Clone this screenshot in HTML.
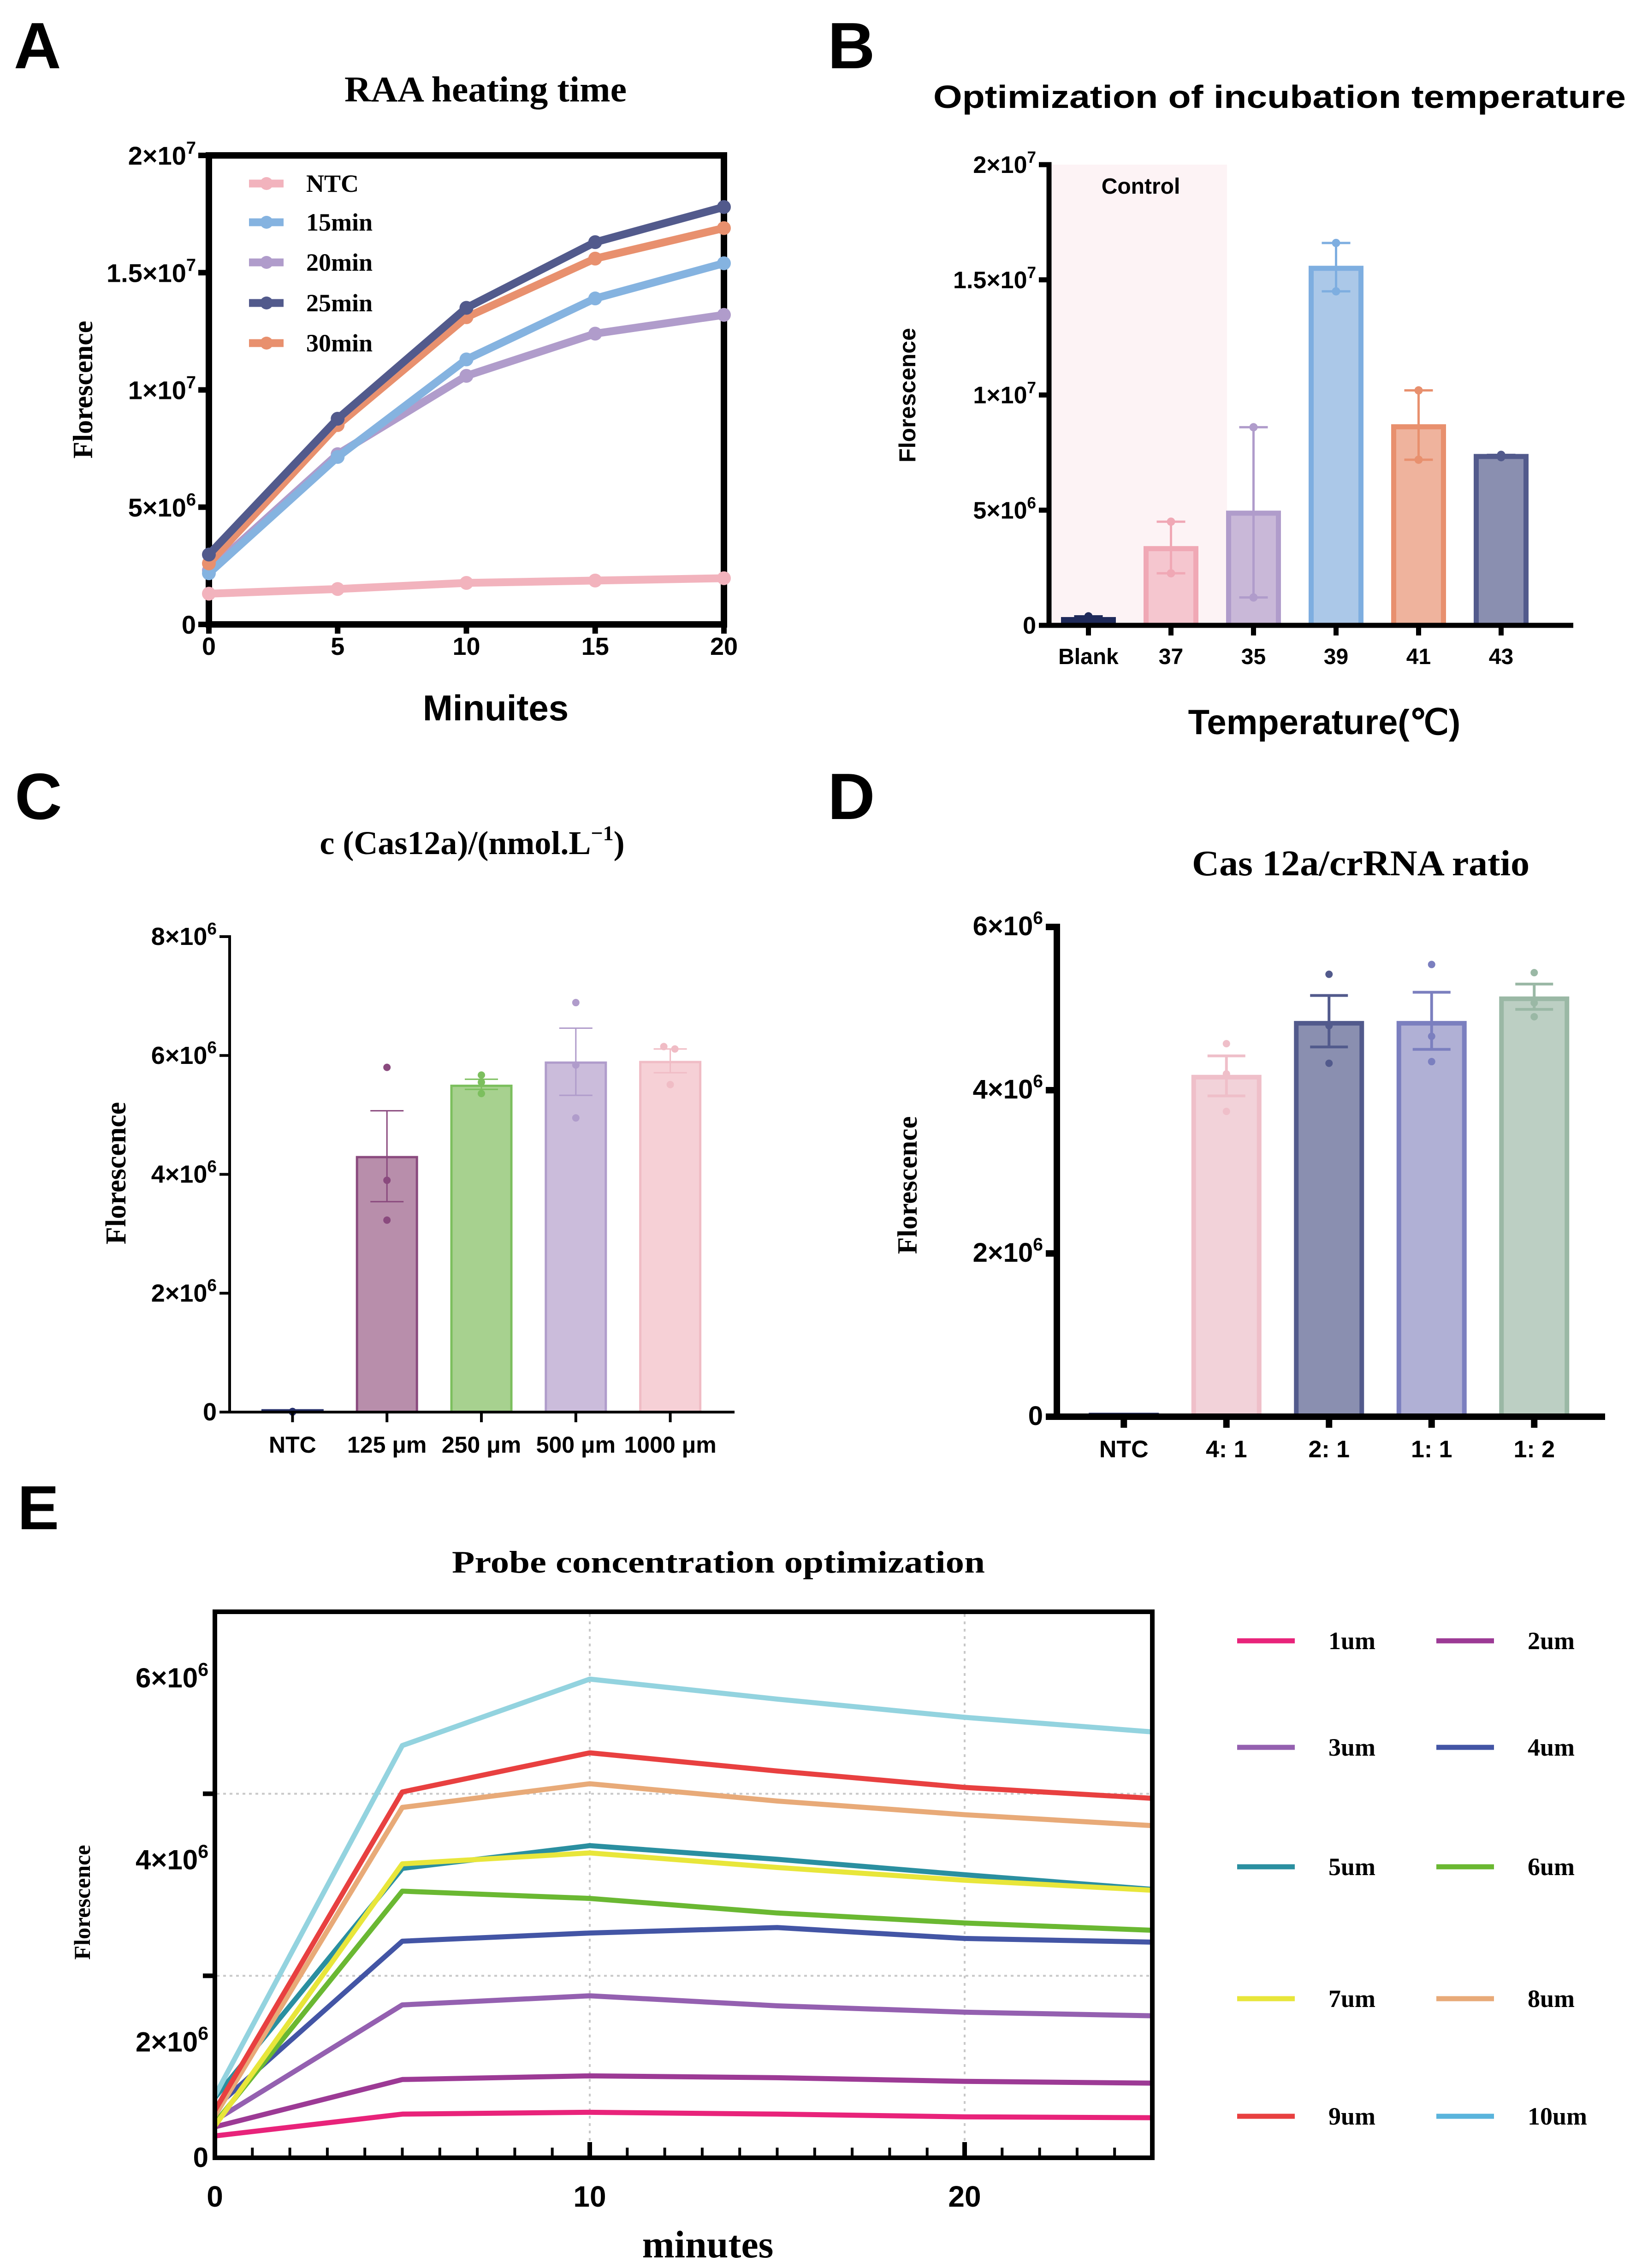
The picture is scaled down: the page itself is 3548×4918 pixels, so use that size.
<!DOCTYPE html>
<html><head><meta charset="utf-8"><style>
html,body{margin:0;padding:0;background:#fff}
svg{display:block}
.sb{font-family:"Liberation Sans",sans-serif;font-weight:bold}
.sf{font-family:"Liberation Serif",serif;font-weight:bold}
</style></head><body>
<svg id="fig" xmlns="http://www.w3.org/2000/svg" width="3548" height="4918" viewBox="0 0 3548 4918">
<rect x="0" y="0" width="3548" height="4918" fill="#fff"/>
<!-- panel letters -->
<text class="sb" x="30" y="148" font-size="142">A</text>
<text class="sb" x="1795" y="148" font-size="142">B</text>
<text class="sb" x="32" y="1776" font-size="142">C</text>
<text class="sb" x="1795" y="1776" font-size="142">D</text>
<text class="sb" x="38" y="3316" font-size="135">E</text>
<!-- A texts -->
<text class="sf" x="1053" y="220" font-size="78" text-anchor="middle" textLength="612" lengthAdjust="spacingAndGlyphs">RAA heating time</text>
<text class="sb" x="1075" y="1562" font-size="78" text-anchor="middle">Minuites</text>
<text class="sf" x="0" y="0" font-size="60" text-anchor="middle" transform="translate(200,845) rotate(-90)">Florescence</text>
<!-- B texts -->
<text class="sb" x="2024" y="234" font-size="70" textLength="1502" lengthAdjust="spacingAndGlyphs">Optimization of incubation temperature</text>
<text class="sb" x="2872" y="1592" font-size="76" text-anchor="middle">Temperature(℃)</text>
<text class="sb" x="0" y="0" font-size="50" text-anchor="middle" transform="translate(1985,857) rotate(-90)">Florescence</text>
<!-- C texts -->
<text class="sf" x="1024" y="1852" font-size="72" text-anchor="middle">c (Cas12a)/(nmol.L<tspan font-size="46" dy="-30">−1</tspan><tspan dy="30">)</tspan></text>
<text class="sf" x="0" y="0" font-size="62" text-anchor="middle" transform="translate(272,2544) rotate(-90)">Florescence</text>
<!-- D texts -->
<text class="sf" x="2951" y="1898" font-size="78" text-anchor="middle" textLength="732" lengthAdjust="spacingAndGlyphs">Cas 12a/crRNA ratio</text>
<text class="sf" x="0" y="0" font-size="60" text-anchor="middle" transform="translate(1988,2570) rotate(-90)">Florescence</text>
<!-- E texts -->
<text class="sf" x="1558" y="3410" font-size="68" text-anchor="middle" textLength="1156" lengthAdjust="spacingAndGlyphs">Probe concentration optimization</text>
<text class="sf" x="1535" y="4895" font-size="84" text-anchor="middle">minutes</text>
<text class="sf" x="0" y="0" font-size="50" text-anchor="middle" transform="translate(195,4125) rotate(-90)">Florescence</text>
<g id="gA"></g><g id="gB"></g><g id="gC"></g><g id="gD"></g><g id="gE"></g>
<text class="sb" x="2474" y="420" font-size="48" text-anchor="middle">Control</text>
</svg>
<script>
// ===== Panel A data =====
const aMinutes=[0,5,10,15,20];
const aSeriesNames=['NTC','15min','20min','25min','30min'];
const aNTC=[1.31e6,1.51e6,1.77e6,1.87e6,1.97e6];
const a15=[2.18e6,7.14e6,11.3e6,13.9e6,15.4e6];
const a20=[2.3e6,7.26e6,10.6e6,12.4e6,13.2e6];
const a25=[2.98e6,8.77e6,13.5e6,16.3e6,17.8e6];
const a30=[2.6e6,8.5e6,13.1e6,15.6e6,16.9e6];
const aYTicks=[0,5e6,1e7,1.5e7,2e7];
const aYLabels=['0','5×10|6','1×10|7','1.5×10|7','2×10|7'];
const aXLabels=['0','5','10','15','20'];
// ===== Panel B data =====
const bCats=['Blank','37','35','39','41','43'];
const bMeans=[0.25e6,3.33e6,4.87e6,15.5e6,8.62e6,7.33e6];
const bErrHi=[0.39e6,4.5e6,8.6e6,16.6e6,10.2e6,7.4e6];
const bErrLo=[0.15e6,2.26e6,1.21e6,14.5e6,7.19e6,7.3e6];
const bYTicks=[0,5e6,1e7,1.5e7,2e7];
const bYLabels=['0','5×10|6','1×10|7','1.5×10|7','2×10|7'];
// ===== Panel C data =====
const cCats=['NTC','125 μm','250 μm','500 μm','1000 μm'];
const cMeans=[0.03e6,4.29e6,5.49e6,5.88e6,5.89e6];
const cErrHi=[0.03e6,5.07e6,5.6e6,6.46e6,6.11e6];
const cErrLo=[0.03e6,3.54e6,5.43e6,5.33e6,5.71e6];
const cDots=[[0,0.01e6,0.01e6],[5.8e6,3.9e6,3.23e6],[5.67e6,5.55e6,5.36e6],[6.89e6,5.84e6,4.95e6],[6.15e6,6.11e6,5.51e6]];
const cYTicks=[0,2e6,4e6,6e6,8e6];
const cYLabels=['0','2×10|6','4×10|6','6×10|6','8×10|6'];
// ===== Panel D data =====
const dCats=['NTC','4: 1','2: 1','1: 1','1: 2'];
const dMeans=[0.02e6,4.16e6,4.82e6,4.82e6,5.12e6];
const dErrHi=[0.02e6,4.42e6,5.16e6,5.2e6,5.3e6];
const dErrLo=[0.02e6,3.93e6,4.53e6,4.5e6,4.99e6];
const dDots=[[0,0,0],[4.57e6,4.2e6,3.74e6],[5.42e6,4.79e6,4.33e6],[5.54e6,4.66e6,4.35e6],[5.44e6,5.07e6,4.9e6]];
const dYTicks=[0,2e6,4e6,6e6];
const dYLabels=['0','2×10|6','4×10|6','6×10|6'];
// ===== Panel E data =====
const eMinutes=[0,5,10,15,20,25];
const eNames=['1um','2um','3um','4um','5um','6um','7um','8um','9um','10um'];
const e1=[0.24e6,0.48e6,0.50e6,0.48e6,0.45e6,0.44e6];
const e2=[0.34e6,0.86e6,0.90e6,0.88e6,0.84e6,0.82e6];
const e3=[0.41e6,1.68e6,1.78e6,1.67e6,1.60e6,1.56e6];
const e4=[0.55e6,2.38e6,2.47e6,2.53e6,2.41e6,2.37e6];
const e5=[0.66e6,3.18e6,3.43e6,3.28e6,3.11e6,2.95e6];
const e6=[0.38e6,2.93e6,2.85e6,2.69e6,2.58e6,2.50e6];
const e7=[0.35e6,3.23e6,3.35e6,3.19e6,3.05e6,2.94e6];
const e8=[0.46e6,3.85e6,4.11e6,3.92e6,3.77e6,3.65e6];
const e9=[0.52e6,4.02e6,4.45e6,4.25e6,4.07e6,3.95e6];
const e10=[0.68e6,4.53e6,5.26e6,5.04e6,4.84e6,4.68e6];
const eYTicks=[0,2e6,4e6];
const eYLabels=['0','2×10|6','4×10|6','6×10|6'];
const eYLabelVals=[0,2e6,4e6,6e6];
const eXLabels=['0','10','20'];
const eXLabelVals=[0,10,20];

const NS='http://www.w3.org/2000/svg';
function mk(tag,attrs,parent){const e=document.createElementNS(NS,tag);for(const k in attrs)e.setAttribute(k,attrs[k]);parent.appendChild(e);return e;}
function supLabel(parent,str,x,y,fs,anchor,cls){
  const p=str.split('|');
  const t=mk('text',{x:x,y:y,'font-size':fs,'text-anchor':anchor||'end','class':cls||'sb'},parent);
  t.appendChild(document.createTextNode(p[0]));
  if(p[1]){const s=mk('tspan',{'font-size':Math.round(fs*0.68),dy:-fs*0.42},t);s.textContent=p[1];}
  return t;
}

// ---------- Panel A ----------
(function(){
const g=document.getElementById('gA');
const xA=v=>453+v/20*(1570-453);
const yA=v=>1354-v/2e7*(1354-337);
const fr=mk('rect',{x:453,y:337,width:1117,height:1017,fill:'none',stroke:'#000','stroke-width':14},g);


aYTicks.forEach((v,i)=>{
  const t=mk('line',{x1:453,x2:430,y1:yA(v),y2:yA(v),stroke:'#000','stroke-width':12},g);
  
  
  const l=supLabel(g,aYLabels[i],425,yA(v)+20,56);
  
  
});
aMinutes.forEach((v,i)=>{
  const t=mk('line',{x1:xA(v),x2:xA(v),y1:1354,y2:1374,stroke:'#000','stroke-width':12},g);
  
  
  const l=mk('text',{x:xA(v),y:1420,'font-size':54,'text-anchor':'middle','class':'sb'},g);
  l.textContent=aXLabels[i];
  
  
});
const series=[[aNTC,'#f2b3bd',0],[a20,'#b09ccb',2],[a15,'#85b3e0',1],[a30,'#e8906e',4],[a25,'#525a8c',3]];
series.forEach(s=>{
  const pts=s[0].map((v,i)=>xA(aMinutes[i])+','+yA(v)).join(' ');
  const pl=mk('polyline',{points:pts,fill:'none',stroke:s[1],'stroke-width':17,'stroke-linejoin':'round'},g);
  
  
  s[0].forEach((v,i)=>{
    const c=mk('circle',{cx:xA(aMinutes[i]),cy:yA(v),r:15,fill:s[1]},g);
    
    
  });
});
const legCols=['#f2b3bd','#85b3e0','#b09ccb','#525a8c','#e8906e'];
const legY=[398,482,569,657,744];
aSeriesNames.forEach((n,i)=>{
  const ln=mk('line',{x1:540,x2:615,y1:legY[i],y2:legY[i],stroke:legCols[i],'stroke-width':17},g);
  
  
  const c=mk('circle',{cx:578,cy:legY[i],r:14,fill:legCols[i]},g);
  
  
  const t=mk('text',{x:664,y:legY[i]+18,'font-size':54,'class':'sf'},g);
  t.textContent=n;
  
  
});
})();

// ---------- bar helper ----------
function barChart(g,pre,o){
  const y=v=>o.y0-v/o.ymax*(o.y0-o.ytop);
  if(o.shade){const r=mk('rect',o.shade,g);}
  o.cats.forEach((c,i)=>{
    const cx=o.x0+o.step*(i+0.5)+o.off;
    const h=Math.max(o.y0-y(o.means[i]),2);
    const b=mk('rect',{x:cx-o.bw/2,y:o.y0-h,width:o.bw,height:h,fill:o.fills[i],stroke:o.strokes[i],'stroke-width':o.bsw},g);
    
    
    if(o.dots){o.dots[i].forEach((v,j)=>{
      const d=mk('circle',{cx:cx+(i===4&&pre==='chart-c'&&j<2?(j?10:-14):0),cy:y(v),r:o.dr,fill:o.strokes[i]},g);
      
      
    });}
    if(i>0||pre==='chart-b'){
      const e=mk('path',{d:`M${cx},${y(o.hi[i])}V${y(o.lo[i])}M${cx-o.cap/2},${y(o.hi[i])}H${cx+o.cap/2}M${cx-o.cap/2},${y(o.lo[i])}H${cx+o.cap/2}`,stroke:o.strokes[i],'stroke-width':o.esw,fill:'none'},g);
      
      
      if(o.capDots){[o.hi[i],o.lo[i]].forEach(v=>{const d=mk('circle',{cx:cx,cy:y(v),r:9,fill:o.strokes[i]},g);});}
    }
    const tk=mk('line',{x1:cx,x2:cx,y1:o.y0,y2:o.y0+o.tl,stroke:'#000','stroke-width':o.asw},g);
    
    
    const l=mk('text',{x:cx,y:o.xly,'font-size':o.xfs,'text-anchor':'middle','class':'sb'},g);
    l.textContent=c;
    
    
  });
  const ax=mk('path',{d:`M${o.x0},${o.ytop-o.asw/2}V${o.y0}H${o.xend}`,stroke:'#000','stroke-width':o.asw,fill:'none'},g);
  
  
  o.yt.forEach((v,i)=>{
    const t=mk('line',{x1:o.x0,x2:o.x0-o.tl,y1:y(v),y2:y(v),stroke:'#000','stroke-width':o.asw},g);
    
    
    const l=supLabel(g,o.yl[i],o.x0-o.tl-6,y(v)+18,o.yfs);
    
    
  });
}
barChart(document.getElementById('gB'),'chart-b',{cats:bCats,means:bMeans,hi:bErrHi,lo:bErrLo,
  x0:2275,y0:1356,ytop:357,ymax:2e7,step:179,off:-4,xend:3412,bw:108,bsw:11,esw:5,cap:62,asw:11,tl:22,capDots:true,
  fills:['#1f2a5a','#f5c6cf','#c9b8d8','#abc8e8','#efb39d','#8a8fb0'],
  strokes:['#1f2a5a','#f0a8b5','#b09ccb','#7eaee0','#e8906e','#525a8c'],
  yt:bYTicks,yl:bYLabels,yfs:52,xly:1440,xfs:48,
  shade:{x:2281,y:357,width:380,height:993,fill:'#fdf3f5'}});
barChart(document.getElementById('gC'),'chart-c',{cats:cCats,means:cMeans,hi:cErrHi,lo:cErrLo,dots:cDots,dr:8,
  x0:498,y0:3062,ytop:2031,ymax:8e6,step:204.8,off:34,xend:1593,bw:130,bsw:5,esw:3,cap:72,asw:6,tl:22,
  fills:['#26306a','#b88eab','#a7d18f','#cbbcdb','#f6d0d6'],
  strokes:['#26306a','#8a4a7e','#7cbf5e','#b09ccb','#f0bcc5'],
  yt:cYTicks,yl:cYLabels,yfs:54,xly:3150,xfs:50});
barChart(document.getElementById('gD'),'chart-d',{cats:dCats,means:dMeans,hi:dErrHi,lo:dErrLo,dots:dDots,dr:8,
  x0:2292,y0:3072,ytop:2010,ymax:6e6,step:222.5,off:34,xend:3481,bw:142,bsw:10,esw:6,cap:82,asw:14,tl:24,
  fills:['#26306a','#f2d2d9','#8a8fb0','#b0b0d5','#bccfc3'],
  strokes:['#26306a','#efbfc9','#525a8c','#7b7fbf','#9ab8a5'],
  yt:dYTicks,yl:dYLabels,yfs:58,xly:3160,xfs:52});

// ---------- Panel E ----------
(function(){
const g=document.getElementById('gE');
const xE=v=>466+v*81.3;
const yE=v=>4679-v/6e6*(4679-3495);
[10,20].forEach(v=>{const l=mk('line',{x1:xE(v),x2:xE(v),y1:3500,y2:4675,stroke:'#c8c8c8','stroke-width':4,'stroke-dasharray':'6 10'},g);});
[2e6,4e6].forEach(v=>{const l=mk('line',{x1:470,x2:2495,y1:yE(v),y2:yE(v),stroke:'#c8c8c8','stroke-width':4,'stroke-dasharray':'6 8'},g);});
const cols=['#e8237a','#9c3a95','#9460b0','#4355a5','#2a8fa0','#6ab832','#e8e63a','#e8aa78','#e84040','#93d3df'];
const legCols=['#e8237a','#9c3a95','#9460b0','#4355a5','#2a8fa0','#6ab832','#e8e63a','#e8aa78','#e84040','#5ab4dc'];
const data=[e1,e2,e3,e4,e5,e6,e7,e8,e9,e10];
data.forEach((s,k)=>{
  const pts=s.map((v,i)=>xE(eMinutes[i])+','+yE(v)).join(' ');
  const pl=mk('polyline',{points:pts,fill:'none',stroke:cols[k],'stroke-width':11,'stroke-linejoin':'round'},g);
  
  
});
const fr=mk('rect',{x:466,y:3495,width:2033,height:1184,fill:'none',stroke:'#000','stroke-width':10},g);


for(let m=1;m<25;m++){
  const major=(m%10===0);
  const t=mk('line',{x1:xE(m),x2:xE(m),y1:4679,y2:4679-(major?34:22),stroke:'#000','stroke-width':major?10:6},g);
  
  
}
eYTicks.forEach(v=>{if(v>0){const t=mk('line',{x1:466,x2:440,y1:yE(v),y2:yE(v),stroke:'#000','stroke-width':10},g);}});
eYLabelVals.forEach((v,i)=>{
  const yy=v>0?yE(v-0.72e6):yE(v)-2;
  const l=supLabel(g,eYLabels[i],452,yy+22,60);
  
  
});
eXLabelVals.forEach((v,i)=>{
  const l=mk('text',{x:xE(v),y:4785,'font-size':64,'text-anchor':'middle','class':'sb'},g);
  l.textContent=eXLabels[i];
  
  
});
const rowY=[3558,3789,4048,4334,4589];
eNames.forEach((n,k)=>{
  const col=k%2,row=Math.floor(k/2);
  const lx=col?3115:2683, tx=col?3313:2881;
  const ln=mk('line',{x1:lx,x2:lx+125,y1:rowY[row],y2:rowY[row],stroke:legCols[k],'stroke-width':11},g);
  
  
  const t=mk('text',{x:tx,y:rowY[row]+18,'font-size':54,'class':'sf'},g);
  t.textContent=n;
  
  
});
})();
</script>
</body></html>
